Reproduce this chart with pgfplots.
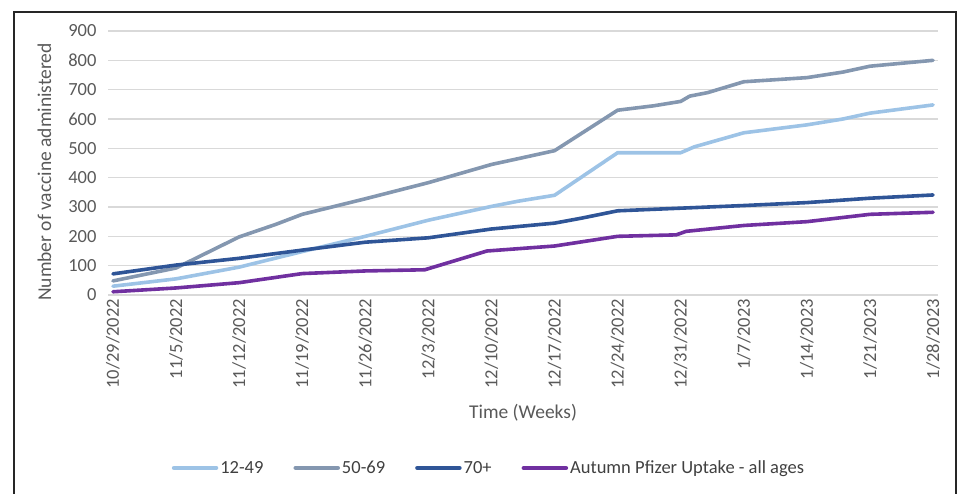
\documentclass[border=0pt]{standalone}
\usepackage{fontspec}
\setmainfont{Carlito}
\usepackage{pgfplots}
\pgfplotsset{compat=1.18}
\definecolor{cA}{HTML}{9DC3E6}
\definecolor{cB}{HTML}{8497B0}
\definecolor{cC}{HTML}{2F5597}
\definecolor{cD}{HTML}{7030A0}
\definecolor{tickgray}{HTML}{595959}
\definecolor{gridgray}{HTML}{D9D9D9}
\begin{document}
\begin{tikzpicture}
\useasboundingbox (0pt,0pt) rectangle (972pt,494pt);
\draw[line width=1.6pt, color=black!85] (14pt,-2pt) -- (14pt,482pt) -- (956pt,482pt) -- (956pt,-2pt);
\begin{axis}[
  at={(108pt,199pt)}, anchor=south west,
  scale only axis, width=830pt, height=264pt,
  xmin=-0.55, xmax=91.55, ymin=0, ymax=900,
  ytick={0,100,...,900},
  xtick={0,7,...,91},
  xticklabels={10/29/2022,11/5/2022,11/12/2022,11/19/2022,11/26/2022,12/3/2022,12/10/2022,12/17/2022,12/24/2022,12/31/2022,1/7/2023,1/14/2023,1/21/2023,1/28/2023},
  x tick label style={rotate=90, anchor=east, font=\fontsize{18.5}{20}\selectfont, text=tickgray, inner sep=1pt},
  y tick label style={font=\fontsize{18.5}{20}\selectfont, text=tickgray},
  /pgf/number format/assume math mode=true,
  xtick style={draw=none}, ytick style={draw=none},
  xticklabel shift=3pt, yticklabel shift=8pt,
  axis line style={draw=none},
  ymajorgrids, major grid style={gridgray, line width=1.5pt},
  xlabel={Time (Weeks)}, xlabel style={font=\fontsize{19.5}{22}\selectfont, text=tickgray, at={(axis description cs:0.5,-0.447)}, anchor=center},
  ylabel={Number of vaccine administered}, ylabel style={font=\fontsize{19.5}{22}\selectfont, text=tickgray, at={(axis description cs:-0.0765,0.466)}, anchor=center, rotate=0},
  legend columns=4,
  legend style={at={(0.459,-0.655)}, anchor=center, draw=none, fill=none,
    font=\fontsize{18.5}{20}\selectfont, text=black!75,
    /tikz/every even column/.append style={column sep=28pt}},
  legend image code/.code={\draw[#1, line width=4.5pt] (0pt,0pt) -- (42pt,0pt);},
  every axis plot/.append style={line width=3.6pt, line join=round, line cap=round},
]
\addplot[cA] coordinates {(0,30) (7,55) (14,95) (21,148) (28,200) (35,255) (42,302) (45,320) (49,340) (56,485) (63,485) (64.5,505) (70,553) (77,580) (81,600) (84,620) (91,648)};
\addlegendentry{12-49}
\addplot[cB] coordinates {(0,48) (7,92) (14,198) (18,240) (21,275) (28,328) (35,383) (42,445) (45,465) (49,492) (56,630) (60,645) (63,660) (64,678) (66,690) (70,727) (77,741) (81,760) (84,780) (91,800)};
\addlegendentry{50-69}
\addplot[cC] coordinates {(0,72) (7,102) (14,125) (21,153) (28,180) (35,195) (42,225) (49,245) (52,262) (56,287) (63,296) (70,305) (77,315) (84,330) (91,341)};
\addlegendentry{70+}
\addplot[cD] coordinates {(0,11) (7,24) (14,42) (21,73) (28,82) (34.6,86) (41.5,150) (49,167) (56,200) (62.5,205) (63.6,217) (70,237) (77,250) (84,275) (91,282)};
\addlegendentry{Autumn Pfizer Uptake - all ages}
\end{axis}
\end{tikzpicture}
\end{document}
